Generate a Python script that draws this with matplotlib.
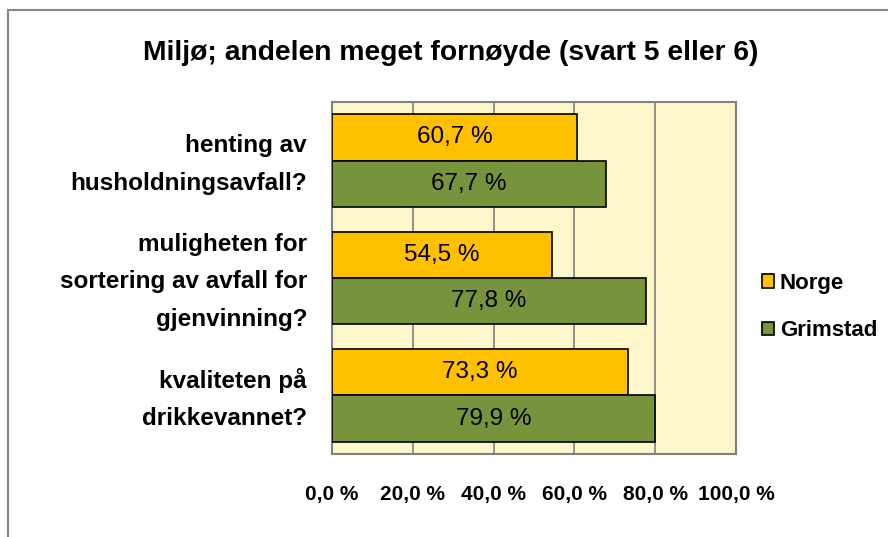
import numpy as np
import matplotlib
matplotlib.use('Agg')
import matplotlib.pyplot as plt
import matplotlib.transforms as mtransforms
from matplotlib.patches import Rectangle

plt.rcParams['font.family'] = ['Liberation Sans', 'DejaVu Sans']

# data
categories = ['henting av\nhusholdningsavfall?',
              'muligheten for\nsortering av avfall for\ngjenvinning?',
              'kvaliteten på\ndrikkevannet?']
norge = [60.7, 54.5, 73.3]
grimstad = [67.7, 77.8, 79.9]
series_names = ['Norge', 'Grimstad']
xticks = [0, 20, 40, 60, 80, 100]

W, H = 888, 537


def main():
    fig = plt.figure(figsize=(W / 100, H / 100), dpi=100)
    fig.patch.set_facecolor('white')

    # outer chart border
    fig.patches.append(Rectangle((8 / W, -0.05), 1.05, 1 - 10 / H + 0.05,
                                 transform=fig.transFigure, fill=False,
                                 edgecolor='#868686', linewidth=1.5))

    ax = fig.add_axes([332 / W, (H - 454) / H, 404 / W, 352 / H])
    ax.set_facecolor('#FFF7CC')

    y = np.arange(len(categories))
    h = 0.396
    b1 = ax.barh(y - h / 2, norge, height=h, color='#FFC000',
                 edgecolor='black', linewidth=1.2, label=series_names[0], zorder=3)
    b2 = ax.barh(y + h / 2, grimstad, height=h, color='#77933C',
                 edgecolor='black', linewidth=1.2, label=series_names[1], zorder=3)

    for bars, vals in [(b1, norge), (b2, grimstad)]:
        for bar, v in zip(bars, vals):
            ax.text(bar.get_width() / 2, bar.get_y() + bar.get_height() / 2,
                    '{:.1f} %'.format(v).replace('.', ','),
                    ha='center', va='center', fontsize=17.5, color='black', zorder=4)

    ax.set_xlim(0, 100)
    ax.set_ylim(len(categories) - 0.5, -0.5)
    ax.set_xticks(xticks)
    ax.set_xticklabels(['{:.1f} %'.format(t).replace('.', ',') for t in xticks],
                       fontsize=15, fontweight='bold')
    ax.set_yticks(y)
    ax.set_yticklabels(categories, fontsize=17.5, fontweight='bold',
                       linespacing=1.8)
    ax.tick_params(axis='x', length=0, pad=22)
    ax.tick_params(axis='y', length=0, pad=18)
    # nudge category labels up a little
    shift = mtransforms.ScaledTranslation(0, 0.06, fig.dpi_scale_trans)
    for lab in ax.get_yticklabels():
        lab.set_transform(lab.get_transform() + shift)
    ax.grid(axis='x', color='#808080', linewidth=1.2, zorder=1)
    for s in ax.spines.values():
        s.set_color('#808080')
        s.set_linewidth(1.5)

    fig.text(451 / W, 1 - 53 / H, 'Miljø; andelen meget fornøyde (svart 5 eller 6)',
             ha='center', va='center', fontsize=20.3, fontweight='bold')

    fig.legend(handles=[b1, b2], loc='center left',
               bbox_to_anchor=(762 / W, 1 - 307 / H), frameon=False,
               prop={'size': 16, 'weight': 'bold'}, handlelength=0.55,
               handleheight=0.55, handletextpad=0.25, labelspacing=1.2,
               borderpad=0, borderaxespad=0)

    plt.savefig('out.png', dpi=100)


if __name__ == '__main__':
    main()
